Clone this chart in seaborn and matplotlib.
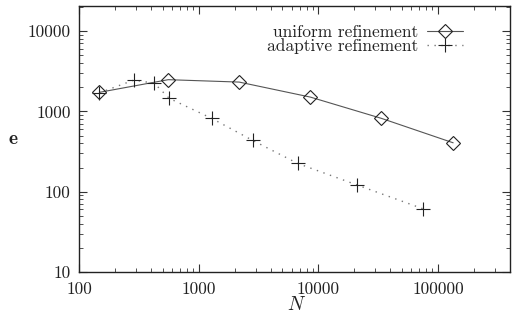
import matplotlib
matplotlib.use("Agg")
import matplotlib.pyplot as plt
import seaborn as sns
import pandas as pd
from matplotlib.ticker import LogLocator, NullFormatter, FixedLocator, FixedFormatter

uniform_N = [148, 557, 2180, 8570, 33700, 134000]
uniform_e = [1725, 2480, 2315, 1506, 818, 406]
adaptive_N = [148, 288, 426, 568, 1285, 2826, 6714, 21130, 75100]
adaptive_e = [1700, 2455, 2235, 1452, 818, 435, 225, 121, 61.2]

sns.set_style("ticks")
plt.rcParams['font.family'] = ['cmr10', 'DejaVu Serif']
plt.rcParams['mathtext.fontset'] = 'cm'
plt.rcParams['axes.formatter.use_mathtext'] = True

fig = plt.figure(figsize=(5.13, 3.2), dpi=100)
ax = fig.add_axes([79/513, 1-272/320, (510-79)/513, (272-6)/320])

df_u = pd.DataFrame({"N": uniform_N, "e": uniform_e})
df_a = pd.DataFrame({"N": adaptive_N, "e": adaptive_e})

sns.lineplot(data=df_u, x="N", y="e", ax=ax, color="#555555", lw=0.8,
             marker="D", markersize=7, markerfacecolor="none",
             markeredgecolor="#222222", markeredgewidth=0.8,
             label="uniform refinement")
sns.lineplot(data=df_a, x="N", y="e", ax=ax, color="#777777", lw=1.0,
             linestyle=(0, (1, 4)), marker="+", markersize=10,
             markeredgecolor="#222222", markeredgewidth=0.8,
             label="adaptive refinement")

ax.set_xscale("log")
ax.set_yscale("log")
ax.set_xlim(100, 400000)
ax.set_ylim(10, 20500)

ax.xaxis.set_major_locator(FixedLocator([100, 1000, 10000, 100000]))
ax.xaxis.set_major_formatter(FixedFormatter(["100", "1000", "10000", "100000"]))
ax.yaxis.set_major_locator(FixedLocator([10, 100, 1000, 10000]))
ax.yaxis.set_major_formatter(FixedFormatter(["10", "100", "1000", "10000"]))
ax.xaxis.set_minor_locator(LogLocator(base=10, subs=range(2, 10)))
ax.yaxis.set_minor_locator(LogLocator(base=10, subs=range(2, 10)))
ax.xaxis.set_minor_formatter(NullFormatter())
ax.yaxis.set_minor_formatter(NullFormatter())

ax.tick_params(which="both", direction="in", top=True, right=True,
               color="#333333", labelsize=12.5, labelcolor="#222222")
ax.tick_params(which="major", length=6, width=0.8)
ax.tick_params(axis="y", which="major", pad=6)
ax.tick_params(axis="x", which="major", pad=7)
ax.tick_params(which="minor", length=3, width=0.6)
for s in ax.spines.values():
    s.set_linewidth(1.0)
    s.set_color("#222222")

ax.set_xlabel("$N$", fontsize=14, color="#222222")
ax.xaxis.set_label_coords((297 - 79) / 431, -(296 - 272) / 266)
ax.set_ylabel("e", fontsize=14, family="cmb10", rotation=0, color="#222222",
              va="center", ha="center")
ax.yaxis.set_label_coords((13 - 79) / 431, (272 - 139) / 266)

leg = ax.legend(loc="upper right", bbox_to_anchor=(0.911, 0.964), frameon=False,
                markerfirst=False, fontsize=12.5, handlelength=2.1,
                handletextpad=0.5, labelspacing=-0.08, borderpad=0)
for t in leg.get_texts():
    t.set_color("#222222")

fig.savefig("out.png", dpi=100)
